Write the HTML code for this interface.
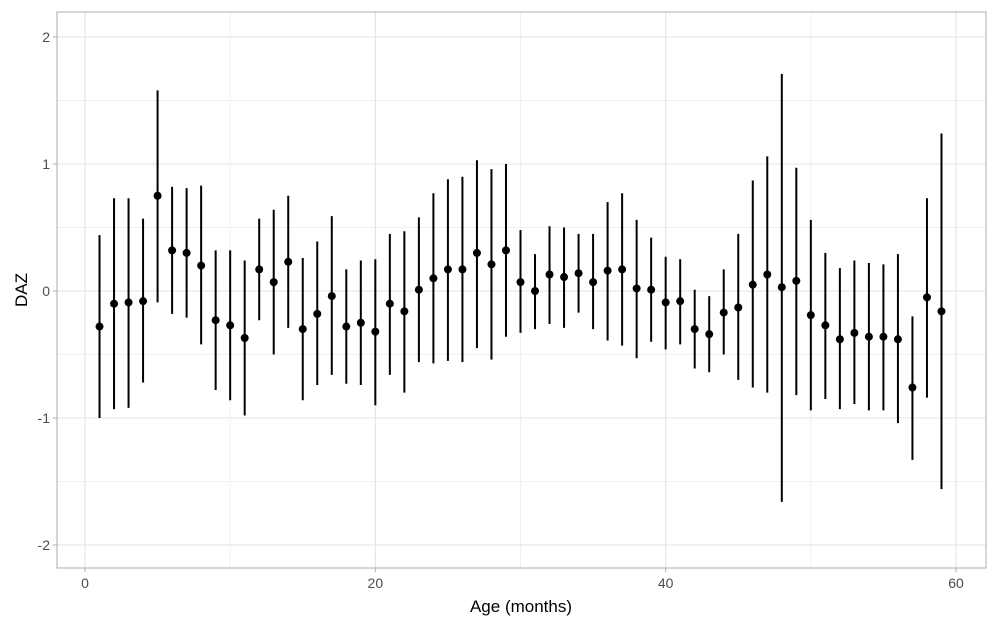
<!DOCTYPE html>
<html><head><meta charset="utf-8"><style>
html,body{margin:0;padding:0;background:#fff;}
svg{display:block;font-family:"Liberation Sans",Arial,sans-serif;}
</style></head><body>
<svg id="chart" width="1000" height="628" viewBox="0 0 1000 628">
<rect x="0" y="0" width="1000" height="628" fill="#fff"/>
<g id="grid"></g>
<g id="marks"></g>
<rect x="57" y="12" width="929" height="556" fill="none" stroke="#b3b3b3" stroke-width="1.1"/>
<g id="axes"></g>
<text x="521" y="612" text-anchor="middle" font-size="17" fill="#000">Age (months)</text>
<text transform="translate(27,290) rotate(-90)" text-anchor="middle" font-size="17" fill="#000">DAZ</text>
</svg>
<script>
const months = [1,2,3,4,5,6,7,8,9,10,11,12,13,14,15,16,17,18,19,20,21,22,23,24,25,26,27,28,29,30,31,32,33,34,35,36,37,38,39,40,41,42,43,44,45,46,47,48,49,50,51,52,53,54,55,56,57,58,59];
const means = [-0.28,-0.10,-0.09,-0.08,0.75,0.32,0.30,0.20,-0.23,-0.27,-0.37,0.17,0.07,0.23,-0.30,-0.18,-0.04,-0.28,-0.25,-0.32,-0.10,-0.16,0.01,0.10,0.17,0.17,0.30,0.21,0.32,0.07,0.00,0.13,0.11,0.14,0.07,0.16,0.17,0.02,0.01,-0.09,-0.08,-0.30,-0.34,-0.17,-0.13,0.05,0.13,0.03,0.08,-0.19,-0.27,-0.38,-0.33,-0.36,-0.36,-0.38,-0.76,-0.05,-0.16];
const upper = [0.44,0.73,0.73,0.57,1.58,0.82,0.81,0.83,0.32,0.32,0.24,0.57,0.64,0.75,0.26,0.39,0.59,0.17,0.24,0.25,0.45,0.47,0.58,0.77,0.88,0.90,1.03,0.96,1.00,0.48,0.29,0.51,0.50,0.45,0.45,0.70,0.77,0.56,0.42,0.27,0.25,0.01,-0.04,0.17,0.45,0.87,1.06,1.71,0.97,0.56,0.30,0.18,0.24,0.22,0.21,0.29,-0.20,0.73,1.24];
const lower = [-1.00,-0.93,-0.92,-0.72,-0.09,-0.18,-0.21,-0.42,-0.78,-0.86,-0.98,-0.23,-0.50,-0.29,-0.86,-0.74,-0.66,-0.73,-0.74,-0.90,-0.66,-0.80,-0.56,-0.57,-0.55,-0.56,-0.45,-0.54,-0.36,-0.33,-0.30,-0.26,-0.29,-0.17,-0.30,-0.39,-0.43,-0.53,-0.40,-0.46,-0.42,-0.61,-0.64,-0.50,-0.70,-0.76,-0.80,-1.66,-0.82,-0.94,-0.85,-0.93,-0.89,-0.94,-0.94,-1.04,-1.33,-0.84,-1.56];
const xTicks = [0,20,40,60];
const xMinor = [10,30,50];
const yTicks = [-2,-1,0,1,2];
const yMinor = [-1.5,-0.5,0.5,1.5];

const NS = "http://www.w3.org/2000/svg";
const X = v => 85 + v * (956 - 85) / 60;
const Y = v => 291 - v * 127;
const L = 57, R = 986, T = 12, B = 568;
function mk(tag, attrs, parent){const e=document.createElementNS(NS,tag);for(const k in attrs)e.setAttribute(k,attrs[k]);parent.appendChild(e);return e;}
const grid = document.getElementById('grid'), marks = document.getElementById('marks'), axes = document.getElementById('axes');
xMinor.forEach(v=>{const e=mk('line',{x1:X(v),x2:X(v),y1:T,y2:B,stroke:'#f0f0f0','stroke-width':0.9},grid);

});
yMinor.forEach(v=>{const e=mk('line',{x1:L,x2:R,y1:Y(v),y2:Y(v),stroke:'#f0f0f0','stroke-width':0.9},grid);

});
xTicks.forEach(v=>{const e=mk('line',{x1:X(v),x2:X(v),y1:T,y2:B,stroke:'#e3e3e3','stroke-width':1.1},grid);


const t=mk('line',{x1:X(v),x2:X(v),y1:B,y2:B+4,stroke:'#b3b3b3','stroke-width':1.1},axes);


const l=mk('text',{x:X(v),y:B+20,'text-anchor':'middle','font-size':14,fill:'#4d4d4d'},axes);
l.textContent=v;

});
yTicks.forEach(v=>{const e=mk('line',{x1:L,x2:R,y1:Y(v),y2:Y(v),stroke:'#e3e3e3','stroke-width':1.1},grid);


const t=mk('line',{x1:L-4,x2:L,y1:Y(v),y2:Y(v),stroke:'#b3b3b3','stroke-width':1.1},axes);


const l=mk('text',{x:L-7,y:Y(v)+5,'text-anchor':'end','font-size':14,fill:'#4d4d4d'},axes);
l.textContent=v;

});
months.forEach((m,i)=>{
const ln=mk('line',{x1:X(m),x2:X(m),y1:Y(upper[i]),y2:Y(lower[i]),stroke:'#000','stroke-width':2},marks);


const c=mk('circle',{cx:X(m),cy:Y(means[i]),r:4,fill:'#000'},marks);


});
</script>
</body></html>
